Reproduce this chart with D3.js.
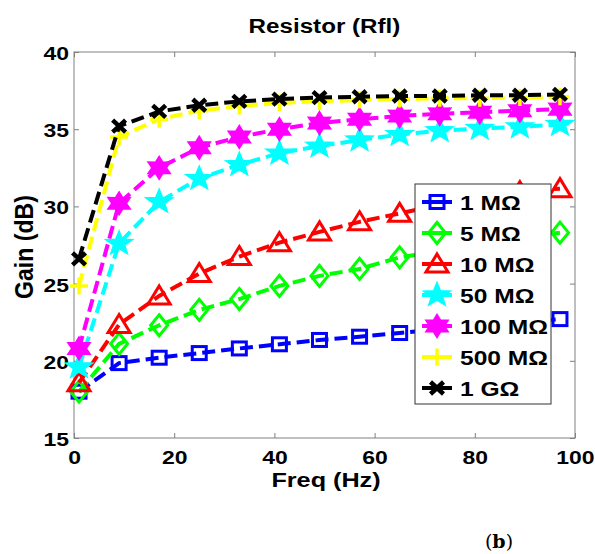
<!DOCTYPE html>
<html>
<head>
<meta charset="utf-8">
<script src="https://cdn.jsdelivr.net/npm/d3@7"></script>
<style>
  html, body { margin: 0; padding: 0; background: #fff; }
  svg { display: block; font-family: "Liberation Sans", Arial, sans-serif; font-weight: bold; }
</style>
</head>
<body>
<svg id="chart" width="595" height="554"></svg>
<script>
// Frequency sweep points (Hz)
const freq = [1, 9, 17, 25, 33, 41, 49, 57, 65, 73, 81, 89, 97];

// Gain (dB) for each feedback resistor value
const gain1M   = [18.0, 19.85, 20.2, 20.5, 20.8, 21.07, 21.35, 21.56, 21.8, 22.05, 22.3, 22.5, 22.7];
const gain5M   = [18.0, 21.1, 22.3, 23.3, 24.0, 24.85, 25.5, 25.95, 26.7, 27.1, 27.55, 27.95, 28.3];
const gain10M  = [18.58, 22.35, 24.2, 25.65, 26.75, 27.65, 28.35, 29.0, 29.55, 30.1, 30.55, 30.95, 31.15];
const gain50M  = [19.6, 27.6, 30.3, 31.8, 32.7, 33.45, 33.9, 34.3, 34.65, 34.9, 35.05, 35.15, 35.3];
const gain100M = [20.8, 30.2, 32.5, 33.8, 34.5, 35.0, 35.4, 35.65, 35.85, 36.0, 36.1, 36.2, 36.3];
const gain500M = [24.85, 34.5, 35.65, 36.2, 36.5, 36.7, 36.8, 36.9, 36.95, 37.0, 37.0, 37.05, 37.1];
const gain1G   = [26.6, 35.2, 36.15, 36.55, 36.8, 36.95, 37.05, 37.1, 37.15, 37.15, 37.2, 37.2, 37.25];

const seriesNames = ["1 MΩ", "5 MΩ", "10 MΩ", "50 MΩ", "100 MΩ", "500 MΩ", "1 GΩ"];
const seriesValues = [gain1M, gain5M, gain10M, gain50M, gain100M, gain500M, gain1G];
const seriesColors = ["#0000ff", "#00ff00", "#ff0000", "#00ffff", "#ff00ff", "#ffff00", "#000000"];
const seriesMarkers = ["square", "diamond", "triangle", "pentagram", "hexagram", "plus", "cross"];

const xTicks = [0, 20, 40, 60, 80, 100];
const yTicks = [15, 20, 25, 30, 35, 40];

const titleText = "Resistor (Rfl)";
const xLabel = "Freq (Hz)";
const yLabel = "Gain (dB)";

const svg = d3.select("#chart");
const plot = { left: 74, right: 575, top: 52, bottom: 438 };

const x = d3.scaleLinear().domain([0, 100]).range([plot.left, plot.right]);
const y = d3.scaleLinear().domain([15, 40]).range([plot.bottom, plot.top]);

const axisColor = "#808080";
const wide = 1.22;   // horizontal text widening used throughout the figure

// Axes with inward ticks on all four sides
const gB = svg.append("g").attr("transform", `translate(0,${plot.bottom})`)
  .call(d3.axisBottom(x).tickValues(xTicks).tickSize(-5).tickPadding(13));
const gT = svg.append("g").attr("transform", `translate(0,${plot.top})`)
  .call(d3.axisTop(x).tickValues(xTicks).tickSize(-5).tickFormat(""));
const gL = svg.append("g").attr("transform", `translate(${plot.left},0)`)
  .call(d3.axisLeft(y).tickValues(yTicks).tickSize(-5).tickPadding(5));
const gR = svg.append("g").attr("transform", `translate(${plot.right},0)`)
  .call(d3.axisRight(y).tickValues(yTicks).tickSize(-5).tickFormat(""));

[gB, gT, gL, gR].forEach(g => {
  g.select(".domain").remove();
  g.selectAll(".tick line").attr("stroke", axisColor).attr("stroke-width", 1);
  g.selectAll(".tick text")
    .attr("fill", "#000")
    .style("font-family", "'Liberation Sans', Arial, sans-serif")
    .style("font-weight", "bold")
    .style("font-size", "18.8px")
    .attr("transform", `scale(${wide},1)`);
});
gL.selectAll(".tick text").attr("x", -5 / wide).attr("dy", "0.4em");

svg.append("rect")
  .attr("x", plot.left).attr("y", plot.top)
  .attr("width", plot.right - plot.left).attr("height", plot.bottom - plot.top)
  .attr("fill", "none").attr("stroke", axisColor).attr("stroke-width", 1);

// Marker shapes
function starPath(n, rOuter, rInner, sx) {
  const pts = [];
  for (let i = 0; i < 2 * n; i++) {
    const r = i % 2 === 0 ? rOuter : rInner;
    const a = -Math.PI / 2 + i * Math.PI / n;
    pts.push([r * Math.cos(a) * sx, r * Math.sin(a)]);
  }
  return "M" + pts.map(p => p[0].toFixed(2) + "," + p[1].toFixed(2)).join("L") + "Z";
}

function drawMarker(g, type, color) {
  switch (type) {
    case "square":
      g.append("rect").attr("x", -7).attr("y", -6.5).attr("width", 14).attr("height", 13)
        .attr("fill", "none").attr("stroke", color).attr("stroke-width", 3);
      break;
    case "diamond":
      g.append("path").attr("d", "M0,-10.5L8.5,0L0,10.5L-8.5,0Z")
        .attr("fill", "none").attr("stroke", color).attr("stroke-width", 3);
      break;
    case "triangle":
      g.append("path").attr("d", "M0,-10L11,8L-11,8Z")
        .attr("fill", "none").attr("stroke", color).attr("stroke-width", 3)
        .attr("stroke-linejoin", "miter");
      break;
    case "pentagram":
      g.append("path").attr("d", starPath(5, 12.5, 5.2, 1.12))
        .attr("fill", color).attr("stroke", color).attr("stroke-width", 1.5);
      break;
    case "hexagram":
      g.append("path").attr("d", starPath(6, 11.5, 6.5, 1.12))
        .attr("fill", color).attr("stroke", color).attr("stroke-width", 1.5);
      break;
    case "plus":
      g.append("path").attr("d", "M-9,0H9M0,-8.5V8.5")
        .attr("stroke", color).attr("stroke-width", 3.5);
      break;
    case "cross":
      g.append("path").attr("d", "M-6.5,-6L6.5,6M-6.5,6L6.5,-6")
        .attr("stroke", color).attr("stroke-width", 4.5);
      break;
  }
}

const line = d3.line().x(d => x(d[0])).y(d => y(d[1]));

const dataLayer = svg.append("g");
seriesValues.forEach((vals, i) => {
  const pts = freq.map((f, j) => [f, vals[j]]);
  const g = dataLayer.append("g");
  g.append("path").datum(pts).attr("d", line)
    .attr("fill", "none").attr("stroke", seriesColors[i])
    .attr("stroke-width", 4).attr("stroke-dasharray", "13,6");
  pts.forEach(p => {
    const m = g.append("g").attr("transform", `translate(${x(p[0])},${y(p[1])})`);
    drawMarker(m, seriesMarkers[i], seriesColors[i]);
  });
});

// Legend
const legend = { x: 415, y: 184, w: 136, h: 220, rowStart: 202, rowStep: 31 };
const lg = svg.append("g");
lg.append("rect").attr("x", legend.x).attr("y", legend.y)
  .attr("width", legend.w).attr("height", legend.h)
  .attr("fill", "#fff").attr("stroke", "#333").attr("stroke-width", 1);
seriesNames.forEach((name, i) => {
  const ry = legend.rowStart + i * legend.rowStep;
  lg.append("line").attr("x1", 422).attr("x2", 452).attr("y1", ry).attr("y2", ry)
    .attr("stroke", seriesColors[i]).attr("stroke-width", 4);
  const m = lg.append("g").attr("transform", `translate(437,${ry})`);
  drawMarker(m, seriesMarkers[i], seriesColors[i]);
  lg.append("text").attr("transform", `translate(460,${ry + 7.5}) scale(1.2,1)`)
    .style("font-size", "20.5px").attr("fill", "#000").text(name);
});

// Titles
svg.append("text")
  .attr("transform", `translate(${(plot.left + plot.right) / 2},33) scale(1.18,1)`)
  .attr("text-anchor", "middle").style("font-size", "20.5px").text(titleText);
svg.append("text").attr("transform", `translate(326,487) scale(1.2,1)`)
  .attr("text-anchor", "middle").style("font-size", "21px").text(xLabel);
svg.append("text").attr("transform", "translate(33,247) rotate(-90) scale(1.1,1.2)")
  .attr("text-anchor", "middle").style("font-size", "21px").text(yLabel);

// Panel tag
const tag = svg.append("text").attr("x", 499).attr("y", 548)
  .attr("text-anchor", "middle")
  .style("font-family", "'DejaVu Serif', 'Liberation Serif', serif")
  .style("font-size", "19px");
tag.append("tspan").style("font-weight", "normal").text("(");
tag.append("tspan").style("font-weight", "bold").text("b");
tag.append("tspan").style("font-weight", "normal").text(")");
</script>
</body>
</html>
